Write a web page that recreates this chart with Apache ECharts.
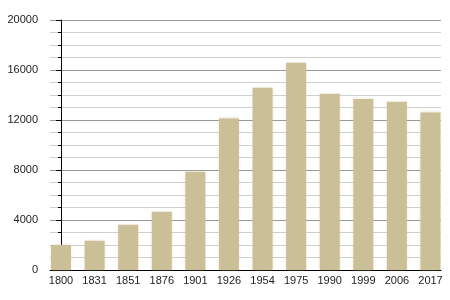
<!DOCTYPE html>
<html>
<head>
<meta charset="utf-8">
<script src="https://cdn.jsdelivr.net/npm/echarts@6/dist/echarts.min.js"></script>
<style>
html,body{margin:0;padding:0;background:#fff;}
#c{width:450px;height:300px;}
</style>
</head>
<body>
<div id="c"></div>
<script>
const years = ['1800','1831','1851','1876','1901','1926','1954','1975','1990','1999','2006','2017'];
const population = [2000, 2340, 3630, 4670, 7870, 12130, 14590, 16590, 14110, 13680, 13470, 12610];
const yMin = 0, yMax = 20000, yStep = 4000;

const positions = years.map((_, i) => i);
const chart = echarts.init(document.getElementById('c'), null, {renderer: 'canvas'});
chart.setOption({
  animation: false,
  backgroundColor: '#ffffff',
  grid: {left: 50, right: 9, top: 20, bottom: 30},
  xAxis: {
    type: 'value',
    min: -0.3275,
    max: 11.3126,
    axisLine: {show: true, onZero: false, lineStyle: {color: '#000', width: 1}},
    axisTick: {show: false},
    splitLine: {show: false},
    axisLabel: {
      customValues: positions,
      formatter: v => years[Math.round(v)],
      color: '#222', fontFamily: 'Liberation Sans', fontSize: 11, margin: 5
    }
  },
  yAxis: {
    type: 'value',
    min: yMin, max: yMax, interval: yStep,
    axisLine: {show: true, lineStyle: {color: '#000', width: 1}},
    axisTick: {show: true, length: 5, lineStyle: {color: '#000'}},
    minorTick: {show: true, splitNumber: 4, length: 3, lineStyle: {color: '#000'}},
    splitLine: {show: true, lineStyle: {color: '#999', width: 1}},
    minorSplitLine: {show: true, lineStyle: {color: '#cfcfcf', width: 1}},
    axisLabel: {
      formatter: v => String(v),
      color: '#222', fontFamily: 'Liberation Sans', fontSize: 11, margin: 12
    }
  },
  series: [{
    type: 'bar',
    barWidth: 20,
    data: population.map((v, i) => [positions[i], v]),
    itemStyle: {color: '#cbbf98', shadowColor: 'rgba(203,191,152,0.5)', shadowBlur: 3}
  }]
});
</script>
</body>
</html>
